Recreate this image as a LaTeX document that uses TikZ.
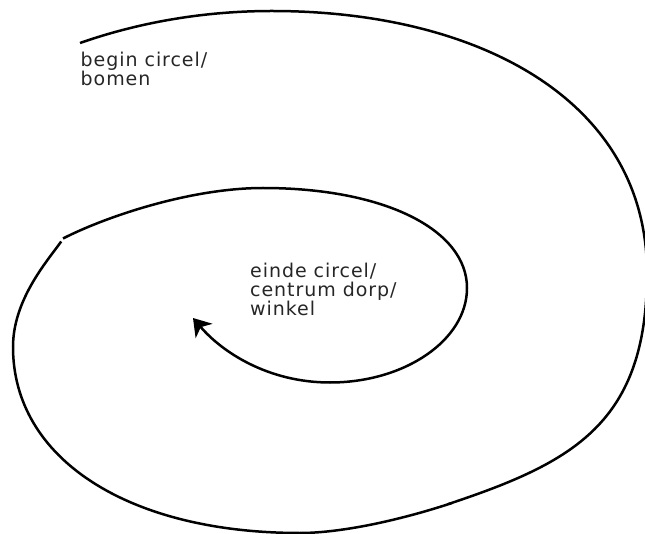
\documentclass[tikz,border=0pt]{standalone}
\usepackage{fontspec}
\setmainfont{DejaVu Sans}[LetterSpace=5]
\usetikzlibrary{arrows.meta}
\tikzset{
  spiral/.style={line width=2.5pt, black, line cap=butt},
  lbl/.style={inner sep=0pt, anchor=north west, align=left, text=black!85,
    font=\fontsize{19}{19.3}\selectfont}
}
\begin{document}
\begin{tikzpicture}[x=1pt,y=-1pt]
\useasboundingbox (0,0) rectangle (645,534);
% outer turn, up to the small break at the lower right
\draw[spiral] (80,43) .. controls (140,22) and (205,11) .. (272,11)
  .. controls (478,11) and (647,100) .. (647,273)
  .. controls (647,423) and (573.4,462.4) .. (448.5,504);
% outer turn, from the break round the bottom and up the left side
\draw[spiral] (452,503) .. controls (397.8,520.9) and (340,533) .. (300,533)
  .. controls (127.8,533) and (13,458.6) .. (13,347)
  .. controls (13,300) and (46.7,261.7) .. (61.2,241.5);
% inner turn ending in the arrow
\draw[spiral, -{Stealth[length=17pt, width=22pt, inset=5pt]}]
  (63,238.5) .. controls (105,217) and (190,188) .. (263,188)
  .. controls (385,188) and (467,230) .. (467,288)
  .. controls (467,340) and (405,382.5) .. (330,382.5)
  .. controls (268,382.5) and (222,352) .. (193,318);
\node[lbl] (begin) at (80.5,52) {begin circel/\\bomen};
\node[lbl] (einde) at (250,262.5) {einde circel/\\centrum dorp/\\winkel};
\end{tikzpicture}
\end{document}
